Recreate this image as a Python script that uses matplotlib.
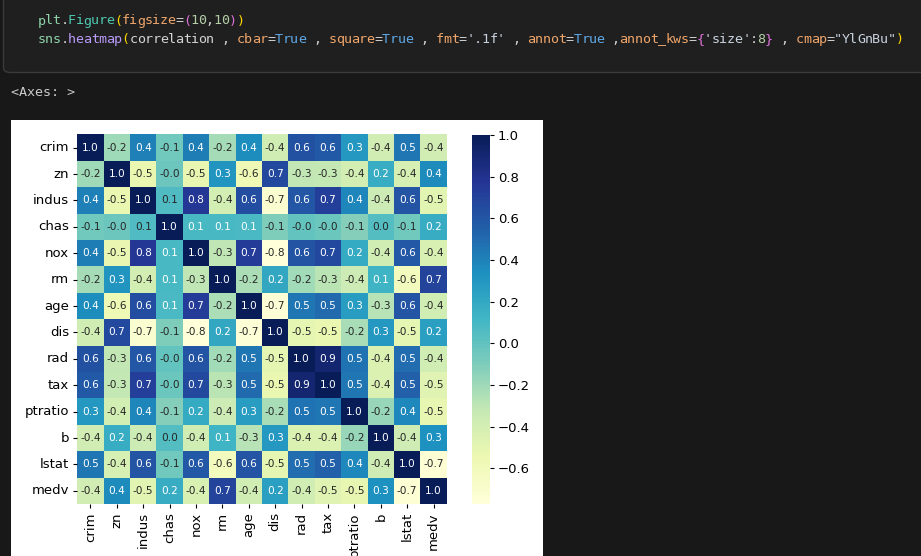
import matplotlib
matplotlib.use("Agg")
import matplotlib.pyplot as plt
from matplotlib.patches import FancyBboxPatch, Rectangle
import numpy as np
import pandas as pd
import seaborn as sns

# ---------------- data ----------------
columns = ["crim", "zn", "indus", "chas", "nox", "rm", "age", "dis",
           "rad", "tax", "ptratio", "b", "lstat", "medv"]

crim = [1.000, -0.200, 0.407, -0.056, 0.421, -0.219, 0.353, -0.380, 0.626, 0.583, 0.290, -0.385, 0.456, -0.388]
zn = [-0.200, 1.000, -0.534, -0.043, -0.517, 0.312, -0.570, 0.664, -0.312, -0.315, -0.392, 0.176, -0.413, 0.360]
indus = [0.407, -0.534, 1.000, 0.063, 0.764, -0.392, 0.645, -0.708, 0.595, 0.721, 0.383, -0.357, 0.604, -0.484]
chas = [-0.056, -0.043, 0.063, 1.000, 0.091, 0.091, 0.087, -0.099, -0.007, -0.036, -0.122, 0.049, -0.054, 0.175]
nox = [0.421, -0.517, 0.764, 0.091, 1.000, -0.302, 0.731, -0.769, 0.611, 0.668, 0.189, -0.380, 0.591, -0.427]
rm = [-0.219, 0.312, -0.392, 0.091, -0.302, 1.000, -0.240, 0.205, -0.210, -0.292, -0.356, 0.128, -0.614, 0.695]
age = [0.353, -0.570, 0.645, 0.087, 0.731, -0.240, 1.000, -0.748, 0.456, 0.506, 0.262, -0.274, 0.602, -0.377]
dis = [-0.380, 0.664, -0.708, -0.099, -0.769, 0.205, -0.748, 1.000, -0.495, -0.534, -0.232, 0.292, -0.497, 0.250]
rad = [0.626, -0.312, 0.595, -0.007, 0.611, -0.210, 0.456, -0.495, 1.000, 0.910, 0.465, -0.444, 0.489, -0.382]
tax = [0.583, -0.315, 0.721, -0.036, 0.668, -0.292, 0.506, -0.534, 0.910, 1.000, 0.461, -0.442, 0.544, -0.469]
ptratio = [0.290, -0.392, 0.383, -0.122, 0.189, -0.356, 0.262, -0.232, 0.465, 0.461, 1.000, -0.177, 0.374, -0.508]
b = [-0.385, 0.176, -0.357, 0.049, -0.380, 0.128, -0.274, 0.292, -0.444, -0.442, -0.177, 1.000, -0.366, 0.333]
lstat = [0.456, -0.413, 0.604, -0.054, 0.591, -0.614, 0.602, -0.497, 0.489, 0.544, 0.374, -0.366, 1.000, -0.738]
medv = [-0.388, 0.360, -0.484, 0.175, -0.427, 0.695, -0.377, 0.250, -0.382, -0.469, -0.508, 0.333, -0.738, 1.000]

cbar_ticks = [1.0, 0.8, 0.6, 0.4, 0.2, 0.0, -0.2, -0.4, -0.6]

correlation = pd.DataFrame([crim, zn, indus, chas, nox, rm, age, dis, rad, tax,
                            ptratio, b, lstat, medv],
                           index=columns, columns=columns)

# ---------------- figure ----------------
W, H = 921, 556
fig = plt.figure(figsize=(W / 100, H / 100), dpi=100)
fig.patch.set_facecolor("#181818")


def fx(px):
    return px / W


def fy(py):
    return 1 - py / H


# code cell box
cell = FancyBboxPatch((fx(3.5), fy(72.5)), fx(960), fy(-20) - fy(72.5),
                      boxstyle="round,pad=0,rounding_size=0.008",
                      transform=fig.transFigure, facecolor="#1f1f1f",
                      edgecolor="#3a3a3a", linewidth=1.0, zorder=-2)
fig.patches.append(cell)

# code text, token by token
mono = "DejaVu Sans Mono"
cw = 7.66
x0 = 37.5
C_VAR = "#8fd3a8"
C_CLS = "#4ec9b0"
C_FN = "#b99bf8"
C_TXT = "#d4d4d4"
C_Y = "#ffd700"
C_P = "#da70d6"
C_PAR = "#efa56a"
C_NUM = "#b5cea8"
C_KW = "#5fa8e6"
C_STR = "#c8d2de"

line1 = [("plt", C_VAR), (".", C_TXT), ("Figure", C_CLS), ("(", C_Y),
         ("figsize", C_PAR), ("=", C_TXT), ("(", C_P), ("10", C_NUM),
         (",", C_TXT), ("10", C_NUM), (")", C_P), (")", C_Y)]
line2 = [("sns", C_VAR), (".", C_TXT), ("heatmap", C_FN), ("(", C_Y),
         ("correlation", C_TXT), (" , ", C_TXT), ("cbar", C_PAR), ("=", C_TXT),
         ("True", C_KW), (" , ", C_TXT), ("square", C_PAR), ("=", C_TXT),
         ("True", C_KW), (" , ", C_TXT), ("fmt", C_PAR), ("=", C_TXT),
         ("'.1f'", C_STR), (" , ", C_TXT), ("annot", C_PAR), ("=", C_TXT),
         ("True", C_KW), (" ,", C_TXT), ("annot_kws", C_PAR), ("=", C_TXT),
         ("{", C_P), ("'size'", C_STR), (":", C_TXT), ("8", C_NUM),
         ("}", C_P), (" , ", C_TXT), ("cmap", C_PAR), ("=", C_TXT),
         ('"YlGnBu"', C_STR), (")", C_Y)]


def draw_line(tokens, ypx):
    i = 0
    for tok, col in tokens:
        for ch in tok:
            if ch != " ":
                fig.text(fx(x0 + i * cw + cw / 2), fy(ypx), ch, color=col,
                         family=mono, fontsize=9.6, ha="center",
                         va="baseline")
            i += 1


draw_line(line1, 24.5)
draw_line(line2, 43.0)

fig.text(fx(11), fy(96.5), "<Axes: >", color="#cccccc", family=mono,
         fontsize=9.6, ha="left", va="baseline")

# white output image background
bg = Rectangle((fx(11), 0), fx(543) - fx(11), fy(120), transform=fig.transFigure,
               facecolor="white", edgecolor="none", zorder=-2)
fig.patches.append(bg)

# heatmap axes
left, right, top, bottom = 77, 447, 134.5, 504
ax = fig.add_axes([fx(left), fy(bottom), fx(right - left), fy(top) - fy(bottom)])
cax = fig.add_axes([fx(472), fy(503.5), fx(18), fy(135) - fy(503.5)])

sns.heatmap(correlation, ax=ax, cbar=True, cbar_ax=cax, square=True,
            fmt=".1f", annot=True, annot_kws={"size": 7.6}, cmap="YlGnBu")

ax.tick_params(axis="both", labelsize=9.5, length=3.2, width=0.8, pad=2.6)
ax.set_yticklabels(columns, rotation=0)
ax.set_xticklabels(columns, rotation=90)
cax.tick_params(labelsize=9.5, length=3.2, width=0.8, pad=2.6)
cax.set_yticks(cbar_ticks)

fig.savefig("out.png", dpi=100, facecolor=fig.get_facecolor())
